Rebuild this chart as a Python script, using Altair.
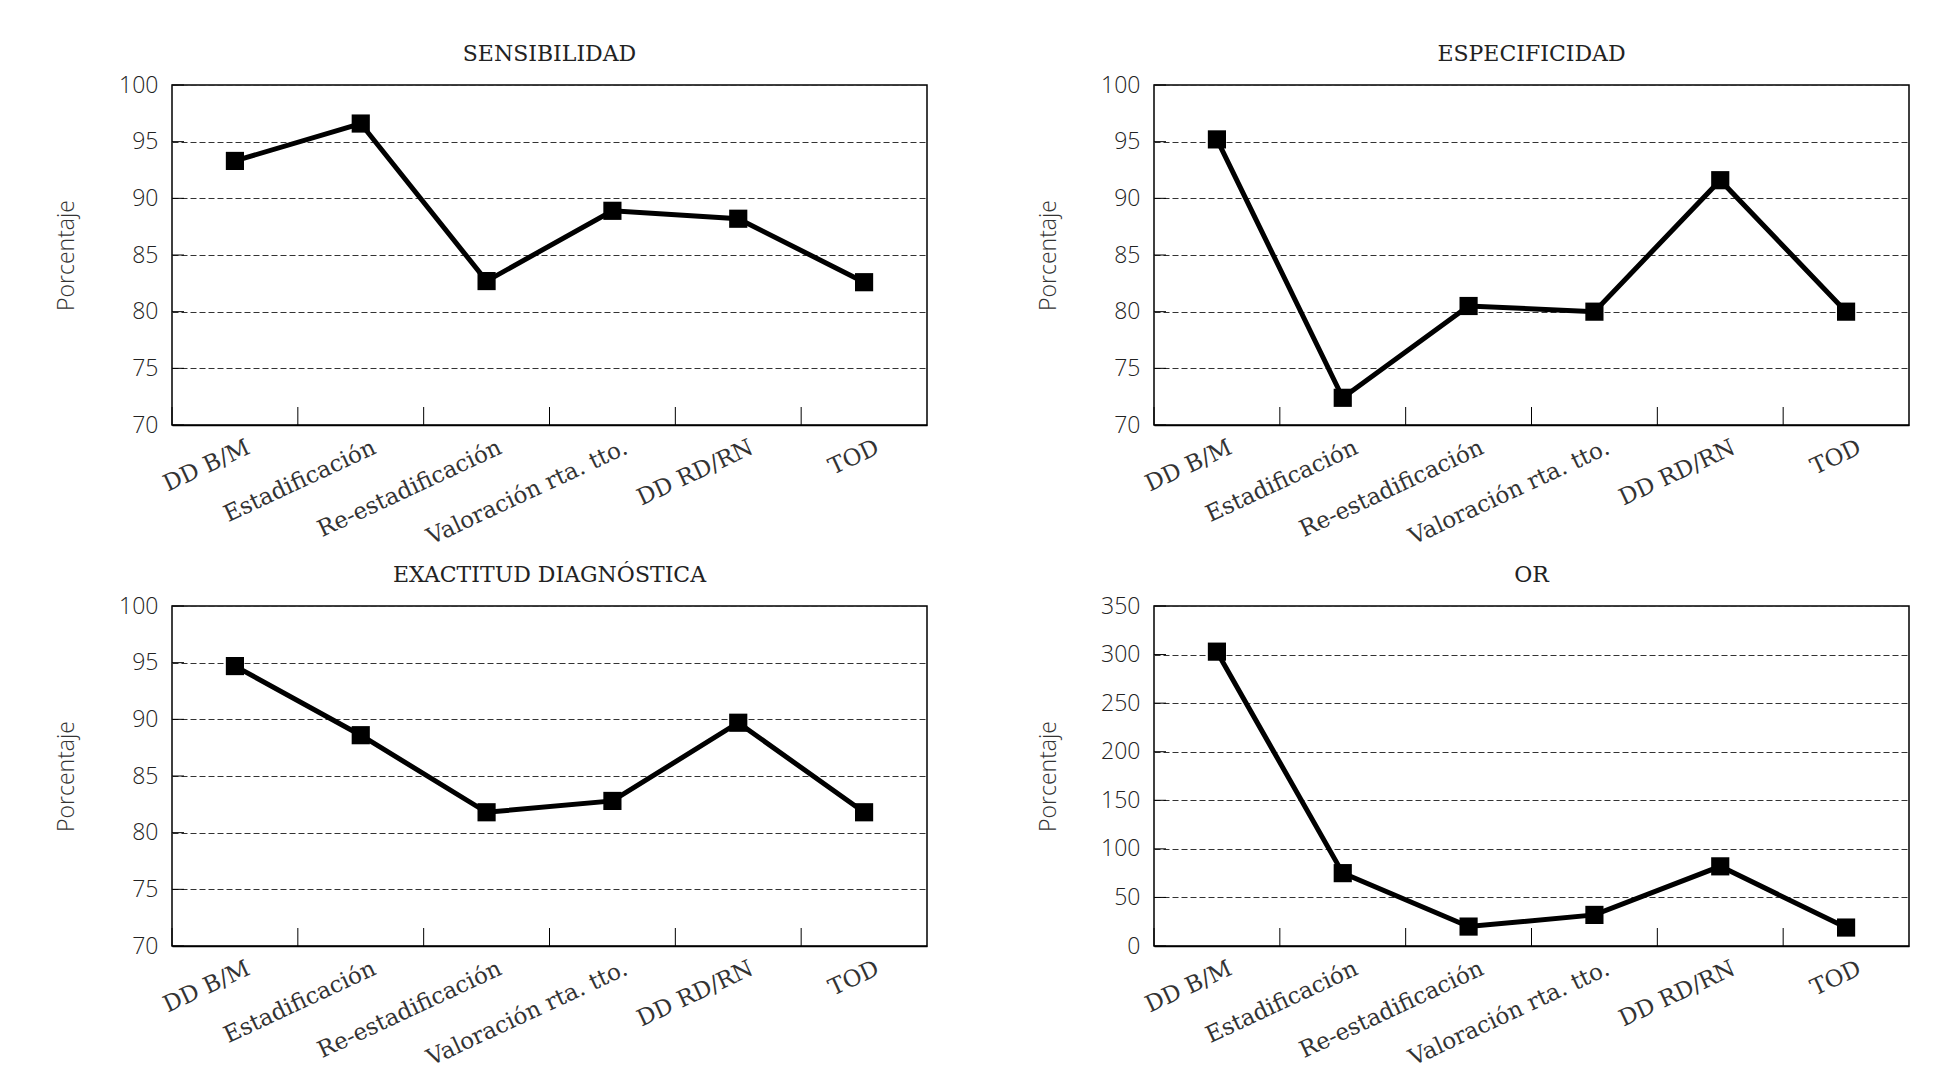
import altair as alt
import pandas as pd

categories = ["DD B/M", "Estadificación", "Re-estadificación",
              "Valoración rta. tto.", "DD RD/RN", "TOD"]
sensibilidad = [93.3, 96.6, 82.7, 88.9, 88.2, 82.6]
especificidad = [95.2, 72.4, 80.5, 80.0, 91.6, 80.0]
exactitud = [94.7, 88.6, 81.8, 82.8, 89.7, 81.8]
odds_ratio = [303, 75, 20, 32, 82, 19]
panel_titles = ["SENSIBILIDAD", "ESPECIFICIDAD", "EXACTITUD DIAGNÓSTICA", "OR"]
pct_ticks = [70, 75, 80, 85, 90, 95, 100]
or_ticks = [0, 50, 100, 150, 200, 250, 300, 350]
y_title = "Porcentaje"

W, H = 755, 340
SANS = "Open Sans, Liberation Sans, sans-serif"
SERIF = "DejaVu Serif, serif"


def panel(title, values, domain, ticks):
    df = pd.DataFrame({"cat": categories, "val": values})
    tdf = pd.DataFrame({"val": ticks})
    xscale = alt.Scale(type="band", paddingInner=0, paddingOuter=0)
    yscale = alt.Scale(domain=domain, nice=False, zero=False)
    xaxis = alt.Axis(title=None, labelAngle=335, labelAlign="right",
                     labelBaseline="top", labelPadding=11, ticks=False,
                     domain=True, domainColor="black", domainWidth=1.5,
                     grid=False, labelFont=SERIF, labelFontWeight="normal",
                     labelFontSize=23, labelColor="#333", labelOffset=9,
                     labelLimit=500)
    yaxis = alt.Axis(values=ticks, title=y_title, titleFont=SANS,
                     titleFontSize=23, titleFontWeight=300,
                     titleColor="#333", titleX=-106, titleY=H / 2,
                     titleAngle=270, titleAlign="center",
                     titleBaseline="middle",
                     labelFont=SANS, labelFontSize=23, labelFontWeight=300,
                     labelColor="#222",
                     labelPadding=14, ticks=False, domain=False,
                     grid=True, gridColor="#333", gridDash=[6, 3],
                     gridWidth=1)
    x = alt.X("cat:N", sort=categories, scale=xscale, axis=xaxis)
    y = alt.Y("val:Q", scale=yscale, axis=yaxis)
    tick_rules = alt.Chart(df).mark_rule(color="black", strokeWidth=1).encode(
        x=alt.X("cat:N", sort=categories, scale=xscale, bandPosition=0, axis=xaxis),
        y=alt.value(H), y2=alt.value(H - 18))
    ytick_rules = alt.Chart(tdf).mark_rule(color="black", strokeWidth=1).encode(
        y=alt.Y("val:Q", scale=yscale, axis=yaxis),
        x=alt.value(0), x2=alt.value(12))
    line = alt.Chart(df).mark_line(color="black", strokeWidth=5).encode(x=x, y=y)
    pts = alt.Chart(df).mark_point(shape="square", filled=True, size=330,
                                   color="black", opacity=1).encode(x=x, y=y)
    return alt.layer(tick_rules, ytick_rules, line, pts).properties(
        width=W, height=H,
        title=alt.TitleParams(title, font=SERIF, fontSize=22, fontWeight="normal",
                              color="#222", anchor="middle", offset=8))


chart = alt.concat(
    panel(panel_titles[0], sensibilidad, [70, 100], pct_ticks),
    panel(panel_titles[1], especificidad, [70, 100], pct_ticks),
    panel(panel_titles[2], exactitud, [70, 100], pct_ticks),
    panel(panel_titles[3], odds_ratio, [0, 350], or_ticks),
    columns=2, spacing={"row": 181, "column": 227}, bounds="flush"
).properties(
    padding={"left": 46, "top": 34, "right": 5, "bottom": 5},
    background="white"
).configure_view(stroke="black", strokeWidth=1.5)

chart.save("out.html", embed_options={"renderer": "svg", "actions": False})
